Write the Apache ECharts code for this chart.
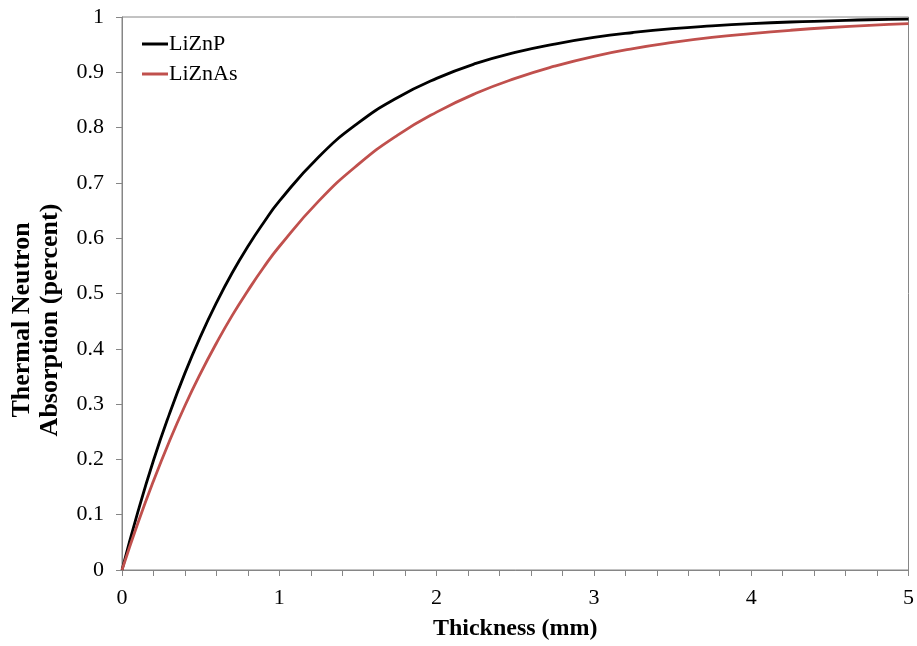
<!DOCTYPE html>
<html>
<head>
<meta charset="utf-8">
<script src="https://cdn.jsdelivr.net/npm/echarts@6/dist/echarts.min.js"></script>
<style>
html,body{margin:0;padding:0;background:#fff;}
#chart{width:917px;height:646px;}
</style>
</head>
<body>
<div id="chart"></div>
<script>
const thickness = [0, 0.1, 0.2, 0.3, 0.4, 0.5, 0.6, 0.7, 0.8, 0.9, 1.0, 1.25, 1.5, 1.75, 2.0, 2.25, 2.5, 2.75, 3.0, 3.25, 3.5, 3.75, 4.0, 4.25, 4.5, 4.75, 5.0];
const liznp = [0, 0.104, 0.198, 0.281, 0.356, 0.423, 0.483, 0.537, 0.585, 0.628, 0.667, 0.747, 0.808, 0.854, 0.889, 0.916, 0.936, 0.951, 0.963, 0.972, 0.979, 0.984, 0.988, 0.991, 0.993, 0.995, 0.996];
const liznas = [0, 0.084, 0.161, 0.232, 0.297, 0.356, 0.410, 0.460, 0.505, 0.547, 0.585, 0.667, 0.733, 0.786, 0.828, 0.862, 0.889, 0.911, 0.929, 0.943, 0.954, 0.963, 0.970, 0.976, 0.981, 0.985, 0.988];
const seriesNames = ['LiZnP', 'LiZnAs'];
const xTitle = 'Thickness (mm)';
const yTitle = 'Thermal Neutron\nAbsorption (percent)';

const font = 'Liberation Serif';
const axisColor = '#868686';
const chart = echarts.init(document.getElementById('chart'), null, {renderer: 'canvas'});
const pairs = (xs, ys) => xs.map((x, i) => [x, ys[i]]);

chart.setOption({
  animation: false,
  backgroundColor: '#fff',
  grid: {left: 122, right: 5, top: 17, bottom: 76, show: true, borderColor: axisColor, borderWidth: 1, backgroundColor: 'transparent'},
  legend: {
    left: 137, top: 28, orient: 'vertical', icon: 'rect', itemWidth: 26, itemHeight: 3, itemGap: 8,
    textStyle: {fontFamily: font, fontSize: 22, color: '#000', padding: [0, 0, 0, -4]},
    data: seriesNames
  },
  xAxis: {
    type: 'value', min: 0, max: 5, interval: 1,
    name: xTitle, nameLocation: 'middle', nameGap: 47,
    nameTextStyle: {fontFamily: font, fontSize: 24, fontWeight: 'bold', color: '#000'},
    axisLine: {lineStyle: {color: axisColor, width: 1}},
    axisTick: {show: true, inside: false, length: 6, lineStyle: {color: axisColor}},
    minorTick: {show: true, splitNumber: 5, length: 6, lineStyle: {color: axisColor}},
    axisLabel: {fontFamily: font, fontSize: 22, color: '#000', margin: 17},
    splitLine: {show: false}
  },
  yAxis: {
    type: 'value', min: 0, max: 1, interval: 0.1,
    axisLine: {show: true, lineStyle: {color: axisColor, width: 1}},
    axisTick: {show: true, inside: false, length: 6, lineStyle: {color: axisColor}},
    axisLabel: {fontFamily: font, fontSize: 22, color: '#000', margin: 18,
      formatter: v => String(Math.round(v * 10) / 10)},
    splitLine: {show: false}
  },
  graphic: [{
    type: 'text', x: 36, y: 320, rotation: Math.PI / 2,
    style: {text: yTitle, fontFamily: font, fontSize: 26, fontWeight: 'bold', fill: '#000',
      align: 'center', verticalAlign: 'middle', lineHeight: 28}
  }],
  series: [
    {name: seriesNames[0], type: 'line', smooth: true, showSymbol: false, symbol: 'none',
     data: pairs(thickness, liznp), lineStyle: {color: '#000000', width: 2.8}, itemStyle: {color: '#000000'}},
    {name: seriesNames[1], type: 'line', smooth: true, showSymbol: false, symbol: 'none',
     data: pairs(thickness, liznas), lineStyle: {color: '#c0504d', width: 2.8}, itemStyle: {color: '#c0504d'}}
  ]
});
</script>
</body>
</html>
